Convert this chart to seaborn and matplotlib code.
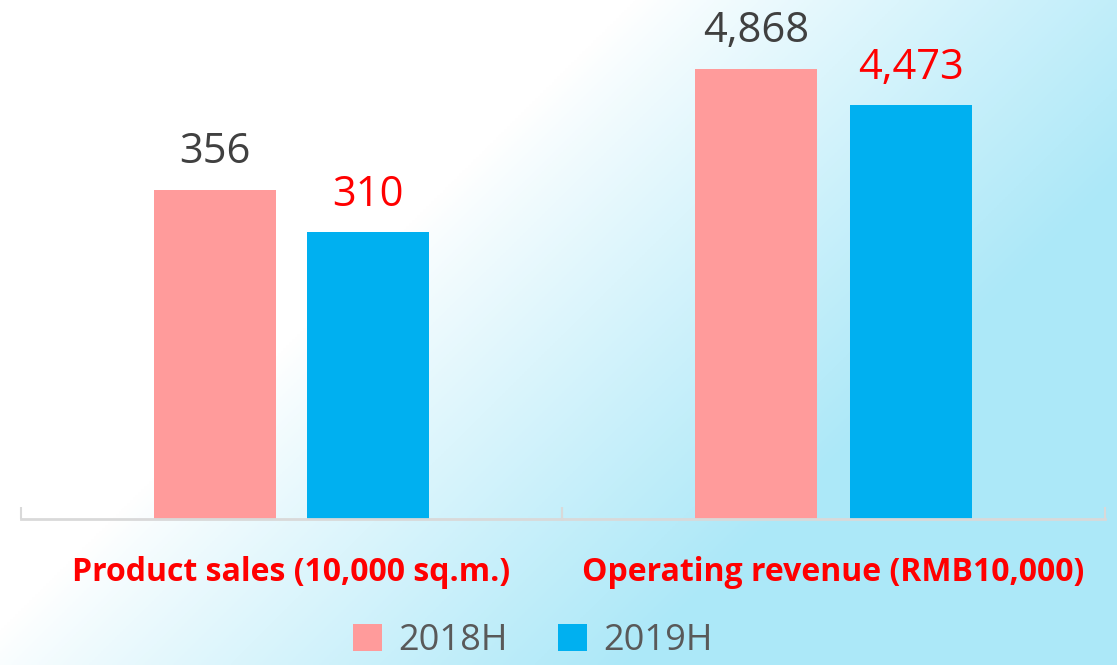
import numpy as np
import pandas as pd
import matplotlib
matplotlib.use("Agg")
import matplotlib.pyplot as plt
import seaborn as sns
from matplotlib.patches import Patch

# ---- data ----
categories = ["Product sales (10,000 sq.m.)", "Operating revenue (RMB10,000)"]
periods = ["2018H", "2019H"]
values_2018 = [356, 4868]
values_2019 = [310, 4473]

sns.set_theme(style="white")
plt.rcParams["font.family"] = ["Open Sans", "DejaVu Sans"]

W, H = 1117, 665
fig = plt.figure(figsize=(W / 100, H / 100), dpi=100)
fig.patch.set_facecolor("white")

# background gradient
bg = fig.add_axes([0, 0, 1, 1], zorder=-10)
gx, gy = np.meshgrid(np.linspace(0, 1, 400), np.linspace(0, 1, 240))
w = np.clip((gx - 0.42) * 1.5 + (gy - 0.25) * 0.9, 0, 1) ** 0.9
w = np.clip(w, 0, 0.9)
white = np.array([1.0, 1.0, 1.0])
cyan = np.array([0.64, 0.90, 0.97])
img = white[None, None, :] * (1 - w[..., None]) + cyan[None, None, :] * w[..., None]
bg.imshow(img, aspect="auto", extent=[0, 1, 0, 1], origin="upper")
bg.set_axis_off()

colors = ["#FF9B9B", "#00B0F0"]
label_colors = ["#404040", "#FF0000"]
ylims = [561, 5610]

x0, xm, x1 = 21, 562, 1105
base = H - 519
axes = [
    fig.add_axes([x0 / W, base / H, (xm - x0) / W, 519 / H]),
    fig.add_axes([xm / W, base / H, (x1 - xm) / W, 519 / H]),
]

for i, ax in enumerate(axes):
    df = pd.DataFrame({
        "category": [categories[i]] * 2,
        "period": periods,
        "value": [values_2018[i], values_2019[i]],
    })
    sns.barplot(data=df, x="category", y="value", hue="period",
                palette=colors, width=0.568, gap=0.208, ax=ax,
                legend=False, saturation=1, linewidth=0, edgecolor="none")
    ax.set_facecolor("none")
    ax.set_xlim(-0.5, 0.5)
    ax.set_ylim(0, ylims[i])
    for j, cont in enumerate(ax.containers):
        ax.bar_label(cont, labels=[f"{v:,.0f}" for v in cont.datavalues],
                     padding=12, fontsize=30, color=label_colors[j])
    for s in ["top", "right", "left"]:
        ax.spines[s].set_visible(False)
    ax.spines["bottom"].set_color("#D9D9D9")
    ax.spines["bottom"].set_linewidth(2)
    ax.set_xticks([-0.5, 0.5])
    ax.set_xticklabels(["", ""])
    ax.tick_params(axis="x", direction="in", length=9, width=1.5,
                   color="#D9D9D9", bottom=True)
    ax.set_yticks([])
    ax.set_xlabel("")
    ax.set_ylabel("")
    ax.text(0.5, -0.103, categories[i], transform=ax.transAxes,
            ha="center", va="center", fontsize=23, fontweight="bold",
            color="#FF0000")

handles = [Patch(facecolor=c, edgecolor="none") for c in colors]
fig.legend(handles, periods, loc="center", bbox_to_anchor=(533 / W, 1 - 641 / H),
           ncol=2, frameon=False, fontsize=26, labelcolor="#595959",
           handlelength=0.8, handleheight=0.8, handletextpad=0.45,
           columnspacing=1.4)

fig.savefig("out.png", dpi=100)
